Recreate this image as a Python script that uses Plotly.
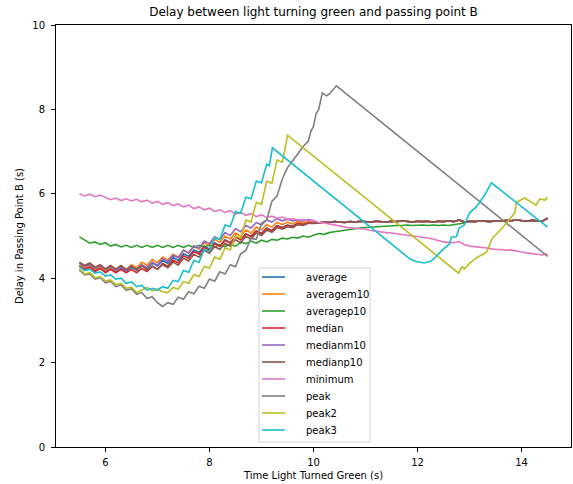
import plotly.graph_objects as go

# time grid (s) for the dense series
x_grid = [round(5.5 + 0.1 * i, 1) for i in range(91)]

# shared flat tail 10.1 .. 14.5 s for the average/median family
family_tail = [5.31, 5.33, 5.32, 5.34, 5.33, 5.32, 5.34, 5.33, 5.35, 5.34,
               5.33, 5.35, 5.34, 5.33, 5.35, 5.34, 5.36, 5.34, 5.33, 5.35,
               5.34, 5.35, 5.33, 5.35, 5.34, 5.36, 5.34, 5.38, 5.33, 5.35,
               5.34, 5.36, 5.35, 5.34, 5.36, 5.35, 5.37, 5.36, 5.38, 5.36,
               5.35, 5.37, 5.36, 5.35, 5.42]

average_head = [4.30, 4.22, 4.28, 4.19, 4.25, 4.16, 4.24, 4.16, 4.24, 4.17,
                4.26, 4.19, 4.30, 4.23, 4.36, 4.29, 4.42, 4.35, 4.49, 4.42,
                4.58, 4.52, 4.67, 4.61, 4.76, 4.69, 4.84, 4.77, 4.91, 4.84,
                4.98, 4.91, 5.05, 4.99, 5.12, 5.06, 5.19, 5.13, 5.25, 5.20,
                5.26, 5.23, 5.30, 5.28, 5.32, 5.31]
averagem10_head = [4.32, 4.25, 4.30, 4.21, 4.27, 4.18, 4.26, 4.18, 4.27, 4.20,
                   4.32, 4.25, 4.38, 4.31, 4.44, 4.37, 4.50, 4.43, 4.57, 4.50,
                   4.66, 4.60, 4.75, 4.69, 4.84, 4.77, 4.92, 4.85, 5.00, 4.93,
                   5.07, 5.00, 5.14, 5.07, 5.21, 5.14, 5.27, 5.21, 5.32, 5.27,
                   5.33, 5.28, 5.35, 5.31, 5.34, 5.32]
averagep10 = [4.98, 4.90, 4.83, 4.86, 4.80, 4.84, 4.76, 4.80, 4.74, 4.78,
              4.73, 4.78, 4.73, 4.78, 4.73, 4.78, 4.73, 4.78, 4.73, 4.78,
              4.73, 4.78, 4.73, 4.78, 4.74, 4.78, 4.74, 4.79, 4.75, 4.80,
              4.76, 4.85, 4.82, 4.88, 4.83, 4.90, 4.86, 4.92, 4.90, 4.95,
              4.93, 4.97, 4.95, 5.00, 4.97, 5.02,
              5.06, 5.04, 5.08, 5.10, 5.12, 5.13, 5.15, 5.17, 5.19, 5.20,
              5.21, 5.22, 5.23, 5.24, 5.24, 5.25, 5.25, 5.26, 5.25, 5.26,
              5.26, 5.25, 5.26, 5.25, 5.26, 5.25, 5.27, 5.28, 5.31,
              5.35, 5.34, 5.36, 5.35, 5.34, 5.36, 5.35, 5.37, 5.36, 5.38,
              5.36, 5.35, 5.37, 5.36, 5.35, 5.42]
median_head = [4.28, 4.20, 4.26, 4.16, 4.23, 4.13, 4.21, 4.13, 4.21, 4.13,
               4.21, 4.13, 4.23, 4.16, 4.28, 4.21, 4.35, 4.28, 4.43, 4.36,
               4.53, 4.47, 4.63, 4.57, 4.73, 4.66, 4.82, 4.75, 4.90, 4.83,
               4.98, 4.91, 5.05, 4.99, 5.12, 5.06, 5.18, 5.12, 5.24, 5.19,
               5.25, 5.22, 5.30, 5.27, 5.31, 5.30]
medianm10_head = [4.36, 4.27, 4.33, 4.23, 4.30, 4.20, 4.28, 4.19, 4.27, 4.19,
                  4.28, 4.21, 4.32, 4.25, 4.38, 4.31, 4.46, 4.39, 4.55, 4.48,
                  4.66, 4.60, 4.77, 4.71, 4.88, 4.82, 4.98, 4.92, 5.08, 5.01,
                  5.17, 5.10, 5.25, 5.19, 5.32, 5.26, 5.38, 5.33, 5.41, 5.36,
                  5.40, 5.36, 5.38, 5.35, 5.39, 5.36]
medianp10_head = [4.38, 4.30, 4.36, 4.26, 4.32, 4.22, 4.30, 4.22, 4.30, 4.21,
                  4.29, 4.21, 4.29, 4.20, 4.29, 4.21, 4.32, 4.25, 4.38, 4.31,
                  4.47, 4.41, 4.56, 4.50, 4.66, 4.59, 4.75, 4.68, 4.83, 4.76,
                  4.91, 4.84, 4.99, 4.93, 5.07, 5.01, 5.14, 5.09, 5.20, 5.16,
                  5.22, 5.20, 5.27, 5.25, 5.30, 5.30]
minimum = [6.00, 5.95, 5.99, 5.93, 5.97, 5.92,
           5.86, 5.90, 5.84, 5.88, 5.83,
           5.87, 5.81, 5.85, 5.78, 5.82,
           5.75, 5.79, 5.72, 5.76, 5.69,
           5.73, 5.65, 5.69, 5.62, 5.66,
           5.58, 5.62, 5.56, 5.60, 5.52,
           5.56, 5.49, 5.53, 5.46, 5.50,
           5.44, 5.47, 5.42, 5.45, 5.40,
           5.41, 5.38, 5.39, 5.36, 5.37,
           5.32, 5.31, 5.29, 5.27, 5.24,
           5.21, 5.20, 5.19, 5.18, 5.16,
           5.13, 5.11, 5.09, 5.08, 5.07,
           5.05, 5.04, 5.02, 5.00, 4.99,
           4.97, 4.96, 4.93, 4.89, 4.86,
           4.85, 4.84, 4.87, 4.80, 4.76,
           4.75, 4.74, 4.72, 4.70, 4.68,
           4.68, 4.66, 4.67, 4.64, 4.62,
           4.60, 4.58, 4.57, 4.55, 4.58]

peak_x = [5.5, 5.6, 5.7, 5.8, 5.9, 6.0, 6.1, 6.2, 6.3, 6.4, 6.5, 6.6, 6.7, 6.8,
          6.9, 7.0, 7.1, 7.2, 7.3, 7.4, 7.5, 7.6, 7.7, 7.8, 7.9, 8.0, 8.1, 8.2,
          8.3, 8.4, 8.5, 8.6, 8.7, 8.8, 8.9, 9.0, 9.1, 9.2, 9.3, 9.4, 9.5,
          9.6, 9.7, 9.8, 9.9, 9.95, 10.0, 10.05, 10.1, 10.17, 10.25, 10.3, 10.44, 14.5]
peak_y = [4.19, 4.08, 4.10, 3.98, 4.01, 3.89, 3.93, 3.80, 3.84, 3.71, 3.75, 3.62,
          3.66, 3.52, 3.56, 3.42, 3.33,
          3.42, 3.38, 3.55, 3.50, 3.68, 3.63, 3.81, 3.76, 3.98, 3.93, 4.15, 4.10,
          4.32, 4.27, 4.58, 4.66, 4.95, 4.92, 5.30, 5.38, 5.82, 5.95, 6.35, 6.62,
          6.80, 6.95, 7.12, 7.25, 7.48, 7.60, 7.90, 8.00, 8.39, 8.32, 8.36, 8.56, 4.52]

peak2_x = [5.5, 5.6, 5.7, 5.8, 5.9, 6.0, 6.1, 6.2, 6.3, 6.4, 6.5, 6.6, 6.7, 6.8,
           6.9, 7.0, 7.1, 7.2, 7.3, 7.4, 7.5, 7.6, 7.7, 7.8, 7.9, 8.0, 8.1, 8.2,
           8.3, 8.4, 8.5, 8.6, 8.7, 8.8, 8.9, 9.0, 9.1, 9.2, 9.3, 9.4,
           9.45, 9.5, 12.79, 12.85, 12.9, 13.0, 13.13, 13.33, 13.44, 13.63, 13.87,
           13.9, 14.06, 14.2, 14.28, 14.35, 14.45, 14.5]
peak2_y = [4.22, 4.10, 4.13, 4.01, 4.04, 3.93, 3.96, 3.85, 3.88, 3.76, 3.79, 3.66,
           3.72, 3.78, 3.70, 3.74, 3.68, 3.66, 3.78, 3.74, 3.92, 3.88, 4.08, 4.04,
           4.28, 4.24, 4.50, 4.45, 4.72, 4.67, 5.00, 4.95, 5.38, 5.33, 5.80, 5.75,
           6.30, 6.25, 6.80, 6.75,
           7.05, 7.39, 4.12, 4.27, 4.22, 4.35, 4.48, 4.62, 4.95, 5.19, 5.55,
           5.80, 5.90, 5.78, 5.73, 5.88, 5.85, 5.92]

peak3_x = [5.5, 5.6, 5.7, 5.8, 5.9, 6.0, 6.1, 6.2, 6.3, 6.4, 6.5, 6.6, 6.7, 6.8,
           6.9, 7.0, 7.1, 7.2, 7.3, 7.4, 7.5, 7.6, 7.7, 7.8, 7.9, 8.0, 8.1, 8.2,
           8.3, 8.4, 8.5, 8.6, 8.7, 8.8, 8.9, 9.0, 9.1,
           9.15, 9.21, 11.85, 11.95, 12.13, 12.25, 12.33, 12.48, 12.62, 12.65,
           12.75, 12.8, 12.9, 13.0, 13.13, 13.29, 13.42, 14.5]
peak3_y = [4.27, 4.18, 4.21, 4.12, 4.15, 4.05,
           4.08, 3.98, 4.00, 3.88, 3.91,
           3.80, 3.83, 3.72, 3.76, 3.72,
           3.80, 3.76, 3.95, 3.92, 4.18,
           4.14, 4.42, 4.38, 4.68, 4.64,
           4.96, 4.92, 5.26, 5.22, 5.58,
           5.54, 5.92, 5.88, 6.30, 6.26,
           6.70,
           6.66, 7.09, 4.46, 4.40, 4.36, 4.40, 4.48, 4.67, 4.82, 4.97,
           4.99, 5.19, 5.26, 5.55, 5.69, 5.97, 6.26, 5.21]

series_names = ["average", "averagem10", "averagep10", "median", "medianm10",
                "medianp10", "minimum", "peak", "peak2", "peak3"]
series_x = [x_grid, x_grid, x_grid, x_grid, x_grid, x_grid, x_grid,
            peak_x, peak2_x, peak3_x]
series_y = [average_head + family_tail, averagem10_head + family_tail,
            averagep10, median_head + family_tail,
            medianm10_head + family_tail, medianp10_head + family_tail,
            minimum, peak_y, peak2_y, peak3_y]
colors = ["#1f77b4", "#ff7f0e", "#2ca02c", "#d62728", "#9467bd",
          "#8c564b", "#e377c2", "#7f7f7f", "#bcbd22", "#17becf"]

W, H = 573, 484
ML, MR, MT, MB = 56, 2, 25, 37
PW, PH = W - ML - MR, H - MT - MB


def px_x(px):
    return (px - ML) / PW


def px_y(py):
    return (H - MB - py) / PH


fig = go.Figure()
for name, xs, ys, color in zip(series_names, series_x, series_y, colors):
    fig.add_trace(go.Scatter(x=xs, y=ys, mode="lines", name=name,
                             showlegend=False,
                             line=dict(color=color, width=1.6)))

# matplotlib-style legend box (compact row spacing)
shapes = [dict(type="rect", xref="paper", yref="paper",
               x0=px_x(259), x1=px_x(370), y0=px_y(442), y1=px_y(268),
               line=dict(color="#d4d4d4", width=1),
               fillcolor="rgba(255,255,255,0.8)", layer="above")]
annotations = []
for i, (name, color) in enumerate(zip(series_names, colors)):
    row_y = 277 + 17 * i
    shapes.append(dict(type="line", xref="paper", yref="paper",
                       x0=px_x(262), x1=px_x(285), y0=px_y(row_y), y1=px_y(row_y),
                       line=dict(color=color, width=1.6), layer="above"))
    annotations.append(dict(text=name, xref="paper", yref="paper",
                            x=px_x(304), y=px_y(row_y), xanchor="left",
                            yanchor="middle", showarrow=False,
                            font=dict(family="DejaVu Sans", size=10, color="black")))

axis_common = dict(showline=True, linecolor="black", linewidth=1, mirror=True,
                   ticks="outside", ticklen=4, tickwidth=1, tickcolor="black",
                   showgrid=False, zeroline=False,
                   tickfont=dict(family="DejaVu Sans", size=10, color="black"))

fig.update_layout(
    width=W, height=H,
    margin=dict(l=ML, r=MR, t=MT, b=MB),
    plot_bgcolor="white", paper_bgcolor="white",
    font=dict(family="DejaVu Sans", size=10, color="black"),
    showlegend=False,
    title=dict(text="Delay between light turning green and passing point B",
               x=0.5, xref="paper", y=1 - 12 / H, yref="container",
               yanchor="middle", font=dict(size=12, color="black")),
    xaxis=dict(range=[5.05, 14.95], tickvals=[6, 8, 10, 12, 14],
               ticklabelstandoff=2,
               title=dict(text="Time Light Turned Green (s)", standoff=4,
                          font=dict(size=10)), **axis_common),
    yaxis=dict(range=[0, 10], tickvals=[0, 2, 4, 6, 8, 10],
               ticklabelstandoff=4,
               title=dict(text="Delay in Passing Point B (s)", standoff=6,
                          font=dict(size=10)), **axis_common),
    shapes=shapes,
    annotations=annotations,
)

fig.write_html("out.html", config={"displayModeBar": False},
               post_script="document.body.style.margin='0px';")
